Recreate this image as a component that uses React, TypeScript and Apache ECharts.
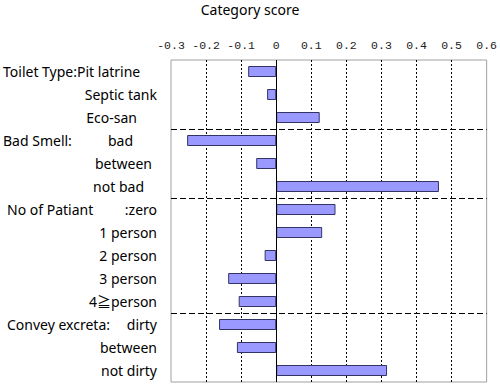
import React, { useEffect, useRef } from "react";
import * as echarts from "echarts";

// Category labels (left part = group prefix, right part = category name)
const groupPrefix = [
  "Toilet Type:Pit latrine", "", "",
  "Bad Smell:", "", "",
  "No of Patiant", "", "", "", "",
  "Convey excreta:", "", "",
];
const categoryNames = [
  "", "Septic tank", "Eco-san",
  "bad", "between", "not bad",
  ":zero", "1 person", "2 person", "3 person", "4≧person",
  "dirty", "between", "not dirty",
];
const scores = [
  -0.08, -0.026, 0.124,
  -0.254, -0.057, 0.464,
  0.169, 0.131, -0.033, -0.137, -0.107,
  -0.163, -0.112, 0.316,
];
const groupStarts = [3, 6, 11];
const xTicks = { min: -0.3, max: 0.6, step: 0.1 };
const title = "Category score";

// layout only: paddings of the category labels
const labelPadRight = [0, 0, 20, 24, 5, 13, 0, 0, 0, 0, 0, 0, 0, 0];
const groupPadLeft = [0, 0, 0, 0, 0, 0, 4, 0, 0, 0, 0, 4, 0, 0];

const categories = groupPrefix.map((g, i) => (g + " " + categoryNames[i]).trim() + "#" + i);

const LABEL_FONT = "'Noto Sans', 'Noto Sans CJK JP', sans-serif";

export default function App() {
  const ref = useRef<HTMLDivElement>(null);
  useEffect(() => {
    if (!ref.current) return;
    const chart = echarts.init(ref.current, undefined, { renderer: "svg" });
    const rich: Record<string, any> = {};
    categories.forEach((_, i) => {
      rich["g" + i] = {
        align: "left",
        fontSize: 14,
        fontFamily: LABEL_FONT,
        color: "#000",
        padding: [0, 0, 0, groupPadLeft[i]],
      };
      rich["r" + i] = {
        align: "right",
        fontSize: 14,
        fontFamily: LABEL_FONT,
        color: "#000",
        padding: [0, labelPadRight[i], 0, 0],
      };
    });
    chart.setOption({
      animation: false,
      title: {
        text: title,
        left: "center",
        top: 2,
        padding: 0,
        textStyle: { fontSize: 14, fontWeight: "normal", fontFamily: LABEL_FONT, color: "#000" },
      },
      grid: {
        left: 171,
        right: 13,
        top: 60,
        bottom: 5,
        show: true,
        borderColor: "#a0a0a0",
        borderWidth: 1,
        backgroundColor: "transparent",
      },
      xAxis: {
        type: "value",
        position: "top",
        min: xTicks.min,
        max: xTicks.max,
        interval: xTicks.step,
        axisLine: { show: false },
        axisTick: { show: false },
        axisLabel: {
          margin: 9,
          fontSize: 11.5,
          fontFamily: "'Liberation Mono', monospace",
          color: "#222",
          formatter: (v: number) => (Math.abs(v) < 1e-9 ? "0" : v.toFixed(1)),
        },
        splitLine: {
          show: true,
          showMinLine: false,
          showMaxLine: false,
          lineStyle: { color: "#000", type: [2, 2], width: 1 },
        },
      },
      yAxis: {
        type: "category",
        inverse: true,
        data: categories,
        axisLine: { show: false },
        axisTick: { show: false },
        axisLabel: {
          align: "left",
          margin: 168,
          width: 154,
          overflow: "none",
          interval: 0,
          formatter: (_v: string, i: number) => {
            let s = "";
            if (groupPrefix[i]) s += "{g" + i + "|" + groupPrefix[i] + "}";
            if (categoryNames[i]) s += "{r" + i + "|" + categoryNames[i] + "}";
            return s;
          },
          rich,
        },
        splitLine: {
          show: true,
          showMinLine: true,
          showMaxLine: false,
          interval: (idx: number) => groupStarts.includes(idx),
          lineStyle: { color: "#000", type: [6, 3], width: 1.2 },
        },
      },
      series: [
        {
          type: "bar",
          data: scores,
          barWidth: 11,
          itemStyle: { color: "#9999ff", borderColor: "#333366", borderWidth: 1 },
          markLine: {
            silent: true,
            symbol: "none",
            label: { show: false },
            lineStyle: { color: "#000", type: "solid", width: 1 },
            data: [{ xAxis: 0 }],
          },
        },
      ],
    });
    return () => chart.dispose();
  }, []);
  return (
    <div
      ref={ref}
      style={{ position: "fixed", left: 0, top: 0, width: 500, height: 387, background: "#fff" }}
    />
  );
}
